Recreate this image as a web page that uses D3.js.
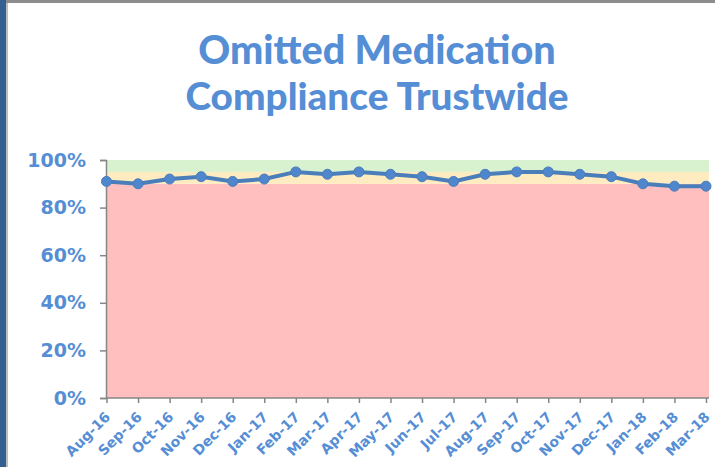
<!DOCTYPE html>
<html>
<head>
<meta charset="utf-8">
<script src="https://cdn.jsdelivr.net/npm/d3@7"></script>
<style>
  body { margin: 0; background: #fff; }
  svg { display: block; font-family: "DejaVu Sans", Verdana, sans-serif; }
</style>
</head>
<body>
<svg id="chart" width="715" height="467"></svg>
<script>
// data
const months = ["Aug-16","Sep-16","Oct-16","Nov-16","Dec-16","Jan-17","Feb-17","Mar-17","Apr-17","May-17",
                "Jun-17","Jul-17","Aug-17","Sep-17","Oct-17","Nov-17","Dec-17","Jan-18","Feb-18","Mar-18"];
const compliance = [0.91,0.90,0.92,0.93,0.91,0.92,0.95,0.94,0.95,0.94,
                    0.93,0.91,0.94,0.95,0.95,0.94,0.93,0.90,0.89,0.89];
const yTicks = [0, 0.2, 0.4, 0.6, 0.8, 1.0];
// RAG bands: [from, to, colour]
const bands = [[0, 0.90, "#FFBFBF"], [0.90, 0.95, "#FFEBC0"], [0.95, 1.0, "#D8F2CF"]];
const titleLines = ["Omitted Medication", "Compliance Trustwide"];

const svg = d3.select("#chart");
const plotL = 106, plotR = 709, plotT = 160, plotB = 398;
const blue = "#558ED5";

// frame: blue bar on the left, grey line on top
svg.append("rect").attr("x", 0).attr("y", 0).attr("width", 6).attr("height", 467).attr("fill", "#335F91");
svg.append("rect").attr("x", 6).attr("y", 3).attr("width", 2).attr("height", 464).attr("fill", "#BDBDBD");
svg.append("rect").attr("x", 6).attr("y", 0).attr("width", 709).attr("height", 3).attr("fill", "#8C8C8C");

const x = d3.scalePoint().domain(months).range([plotL + 0.5, plotR - 3]);
const y = d3.scaleLinear().domain([0, 1]).range([plotB, plotT]);

// bands
svg.selectAll("rect.band")
  .data(bands)
  .enter()
  .append("rect")
  .attr("class", "band")
  .attr("x", plotL)
  .attr("width", plotR - plotL)
  .attr("y", d => y(d[1]))
  .attr("height", d => y(d[0]) - y(d[1]))
  .attr("fill", d => d[2]);

// title, sized so each line spans roughly what the original does
const titleWidths = [357, 383];
svg.selectAll("text.title")
  .data(titleLines)
  .enter()
  .append("text")
  .attr("class", "title")
  .attr("x", 377)
  .attr("y", (d, i) => [64, 110][i])
  .attr("text-anchor", "middle")
  .style("font-family", "Lato, 'Open Sans', sans-serif")
  .style("font-size", "36px")
  .style("font-weight", "900")
  .attr("fill", blue)
  .text(d => d)
  .each(function(d, i) {
    const w = this.getComputedTextLength();
    d3.select(this).style("font-size", (36 * titleWidths[i] / w).toFixed(1) + "px");
  });

// y axis
const yAxis = svg.append("g")
  .attr("transform", `translate(${plotL},0)`)
  .call(d3.axisLeft(y).tickValues(yTicks).tickSize(6).tickPadding(14).tickFormat(d3.format(".0%")));
yAxis.selectAll("text")
  .style("font-size", "19px")
  .style("font-weight", "bold")
  .style("font-family", "'DejaVu Sans', Verdana, sans-serif")
  .attr("fill", blue);
yAxis.selectAll("line, path").attr("stroke", "#868686").attr("stroke-width", 1.5);

// x axis
const xAxis = svg.append("g")
  .attr("transform", `translate(0,${plotB})`)
  .call(d3.axisBottom(x).tickSize(5).tickSizeOuter(0));
xAxis.select("path.domain").attr("d", `M${plotL},0H${plotR}`);
xAxis.selectAll("line, path").attr("stroke", "#868686").attr("stroke-width", 1.5);
xAxis.selectAll("text")
  .attr("transform", "rotate(-45)")
  .attr("x", -11)
  .attr("y", 17)
  .attr("dy", 0)
  .style("text-anchor", "end")
  .style("font-size", "14px")
  .style("font-weight", "bold")
  .style("font-family", "'DejaVu Sans', Verdana, sans-serif")
  .attr("fill", blue);

// line + markers
const line = d3.line()
  .x((d, i) => x(months[i]))
  .y(d => y(d));

svg.append("path")
  .datum(compliance)
  .attr("d", line)
  .attr("fill", "none")
  .attr("stroke", "#4A7EBB")
  .attr("stroke-width", 4);

svg.selectAll("circle.pt")
  .data(compliance)
  .enter()
  .append("circle")
  .attr("class", "pt")
  .attr("cx", (d, i) => x(months[i]))
  .attr("cy", d => y(d))
  .attr("r", 5)
  .attr("fill", "#4F86CC")
  .attr("stroke", "#4A7EBB")
  .attr("stroke-width", 1);
</script>
</body>
</html>
